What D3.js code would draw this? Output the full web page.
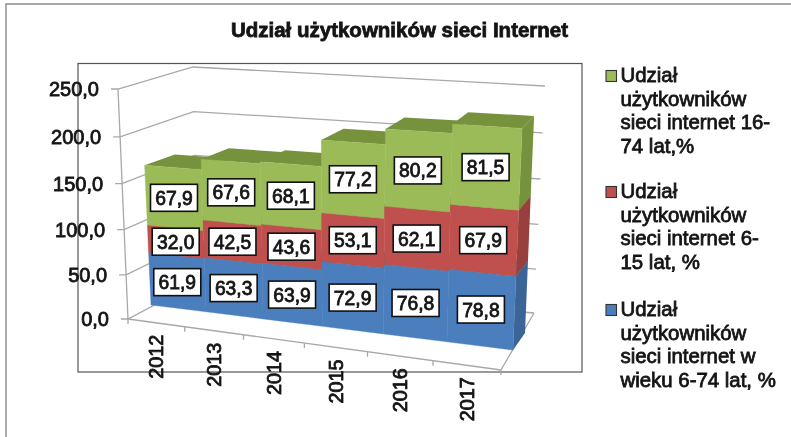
<!DOCTYPE html>
<html lang="pl">
<head>
<meta charset="utf-8">
<script src="https://cdn.jsdelivr.net/npm/d3@7/dist/d3.min.js"></script>
<style>
html,body{margin:0;padding:0;background:#fff}
svg{display:block;filter:blur(.4px)}
text{font-family:"Liberation Sans",Arial,sans-serif;fill:#141414;stroke:#141414;stroke-width:.8px}
</style>
</head>
<body>
<svg id="c" width="791" height="437"></svg>
<script>
const titleText = "Udział użytkowników sieci Internet";
const categories = ["2012","2013","2014","2015","2016","2017"];
const valueTicks = [0,50,100,150,200,250];
const seriesBlue  = [61.9,63.3,63.9,72.9,76.8,78.8];
const seriesRed   = [32.0,42.5,43.6,53.1,62.1,67.9];
const seriesGreen = [67.9,67.6,68.1,77.2,80.2,81.5];
const legendBlue  = ["Udział","użytkowników","sieci internet w","wieku 6-74 lat, %"];
const legendRed   = ["Udział","użytkowników","sieci internet 6-","15 lat, %"];
const legendGreen = ["Udział","użytkowników","sieci internet 16-","74 lat,%"];

const fmt = v => d3.format(".1f")(v).replace(".", ",");
const svg = d3.select("#c");

// perspective map from the unit square to a quadrilateral
function homography(tl, tr, br, bl){
  const [x0,y0]=bl,[x1,y1]=br,[x2,y2]=tr,[x3,y3]=tl;
  const dx1=x1-x2,dx2=x3-x2,sx=x0-x1+x2-x3,dy1=y1-y2,dy2=y3-y2,sy=y0-y1+y2-y3;
  const den=dx1*dy2-dx2*dy1;
  const g=(sx*dy2-dx2*sy)/den,h=(dx1*sy-sx*dy1)/den;
  const a=x1-x0+g*x1,b=x3-x0+h*x3,d=y1-y0+g*y1,e=y3-y0+h*y3;
  return (u,v)=>{const w=g*u+h*v+1;return [(a*u+b*v+x0)/w,(d*u+e*v+y0)/w];};
}
const barFront = homography([141,85],[523,106],[513,350],[151,305]);
const barBack  = homography([172,76],[535,94],[525,333],[180,292]);
const wallBack = homography([193,67],[545,86],[534,313],[196,283]);
const wallFront= homography([118,89],[511,115],[501,370],[128,319]);

const band = d3.scaleBand().domain(categories).range([0,1]).padding(0);
const vy = d3.scaleLinear().domain([0,250]).range([0,1]);

const poly = p => p.map(q=>q.map(n=>n.toFixed(1)).join(",")).join(" ");
const GRID="#a8a8a8";

// frames
const frame = svg.append("g").attr("fill","none");
frame.append("path").attr("d","M791,4H6V437").attr("stroke","#8a8a8a").attr("stroke-width",1.4);
frame.append("rect").attr("x",78).attr("y",63.5).attr("width",504).attr("height",308.5)
  .attr("stroke","#555").attr("stroke-width",1.2);

// walls and floor
const walls = svg.append("g").attr("fill","none").attr("stroke",GRID).attr("stroke-width",1.3);
const line = (a,b)=>walls.append("line").attr("x1",a[0]).attr("y1",a[1]).attr("x2",b[0]).attr("y2",b[1]);
valueTicks.forEach(t=>{
  const v=vy(t), f=wallFront(0,v), b=wallBack(0,v), r=wallBack(1,v);
  walls.append("polyline").attr("points",poly([[f[0]-7,f[1]],f,b,r]));
});
line(wallFront(0,0),wallFront(0,1));
line(wallFront(0,0),wallFront(1,0));
line(wallFront(1,0),wallBack(1,0));
d3.range(categories.length+1).forEach(i=>{
  const p=wallFront(i/categories.length,0);
  line(p,[p[0],p[1]+5]);
});

// stacked blocks, left to right so that later blocks cover earlier ones
const stackData = categories.map((c,i)=>({c,b:seriesBlue[i],r:seriesRed[i],g:seriesGreen[i]}));
const stacked = d3.stack().keys(["b","r","g"])(stackData);
const faces = {
  b:{front:"#4a7ebd",side:"#3a6596",top:"#3a6596"},
  r:{front:"#c0504d",side:"#97403d",top:"#97403d"},
  g:{front:"#9bbb59",side:"#76923c",top:"#76923c"}
};
const marks = svg.append("g");
categories.forEach((c,i)=>{
  const u0=band(c),u1=u0+band.bandwidth();
  stacked.forEach(s=>{
    const [a,b]=s[i], va=vy(a), vb=vy(b), col=faces[s.key], last=i===categories.length-1;
    marks.append("polygon").attr("fill",col.top)
      .attr("points",poly([barFront(u0,vb),barFront(u1,vb),barBack(u1,vb),barBack(u0,vb)]));
    if(last) marks.append("polygon").attr("fill",col.side)
      .attr("points",poly([barFront(u1,va),barFront(u1,vb),barBack(u1,vb),barBack(u1,va)]));
    marks.append("polygon").attr("fill",col.front).attr("stroke",col.front).attr("stroke-width",.4)
      .attr("points",poly([barFront(u0,va),barFront(u1,va),barFront(u1,vb),barFront(u0,vb)]));
  });
});

// data labels
const labels = svg.append("g");
categories.forEach((c,i)=>{
  const um=band(c)+band.bandwidth()/2;
  stacked.forEach(s=>{
    const [a,b]=s[i], p=barFront(um,vy((a+b)/2));
    labels.append("rect").attr("x",p[0]-23.5).attr("y",p[1]-13.5).attr("width",47).attr("height",27)
      .attr("fill","#fff").attr("stroke","#111").attr("stroke-width",1.6);
    labels.append("text").attr("x",p[0]).attr("y",p[1]+7).attr("text-anchor","middle")
      .attr("font-size",19.3).text(fmt(b-a));
  });
});

// value axis labels
valueTicks.forEach(t=>{
  const f=wallFront(0,vy(t));
  svg.append("text").attr("x",f[0]-19).attr("y",f[1]+7).attr("text-anchor","end")
    .attr("font-size",20).text(fmt(t));
});
// category labels
categories.forEach(c=>{
  const p=wallFront(band(c)+band.bandwidth()/2,0);
  svg.append("text").attr("transform",`translate(${p[0]+7},${p[1]+12}) rotate(-90)`)
    .attr("text-anchor","end").attr("font-size",19.8).text(c);
});

// title
svg.append("text").attr("x",399.5).attr("y",37).attr("text-anchor","middle")
  .attr("font-size",20.5).attr("font-weight","bold").text(titleText);

// legend
[[legendGreen,faces.g.front,82],[legendRed,faces.r.front,198],[legendBlue,faces.b.front,316]].forEach(([lines,col,y])=>{
  svg.append("rect").attr("x",606).attr("y",y-11.5).attr("width",10.5).attr("height",11)
    .attr("fill",col).attr("stroke","#333").attr("stroke-width",1.1);
  lines.forEach((t,k)=>{
    svg.append("text").attr("x",620.5).attr("y",y+k*23.6).attr("font-size",20.4).text(t);
  });
});
</script>
</body>
</html>
